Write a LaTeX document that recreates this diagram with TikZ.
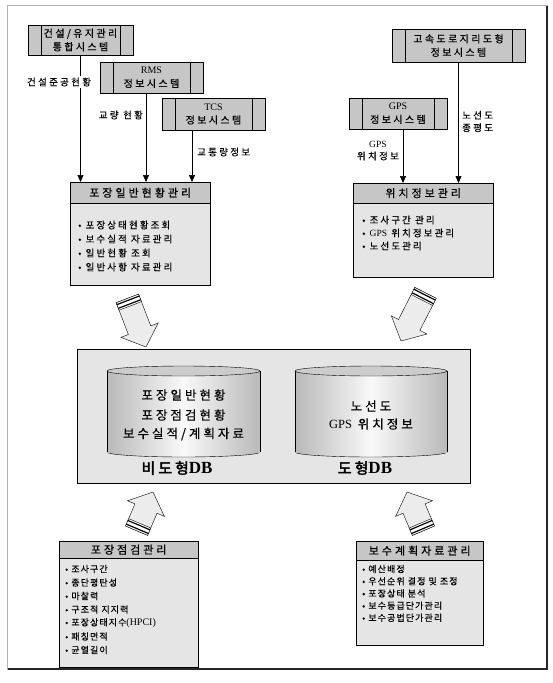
\documentclass[tikz,border=0pt]{standalone}
\usepackage{fontspec}
\setmainfont{Noto Sans CJK KR}[LetterSpace=24,FakeBold=0.5]
\newfontfamily\krtight{Noto Sans CJK KR}[LetterSpace=12,FakeBold=0.5]
\newfontfamily\krbold{Noto Sans CJK KR}[FakeBold=2.2,LetterSpace=20]
\newfontfamily\lat{Liberation Serif}
\usetikzlibrary{arrows.meta,positioning,calc}

\tikzset{
  sysbox/.style={draw, fill=gray!45, align=center, inner sep=0pt,
    font=\fontsize{10}{13.5}\selectfont,
    path picture={
      \draw ([xshift=13pt]path picture bounding box.north west) -- ([xshift=13pt]path picture bounding box.south west);
      \draw ([xshift=-13pt]path picture bounding box.north east) -- ([xshift=-13pt]path picture bounding box.south east);}},
  panel/.style={draw, fill=gray!20, inner sep=0pt},
  header/.style={draw, fill=gray!45, inner sep=0pt,
    font=\fontsize{11}{12}\selectfont\addfontfeature{LetterSpace=27}},
  item/.style={anchor=west, inner sep=0pt, font=\fontsize{9.5}{11}\selectfont\addfontfeature{LetterSpace=22}},
  smallitem/.style={anchor=west, inner sep=0pt, font=\krtight\fontsize{9}{10}\selectfont},
  flowlabel/.style={inner sep=0pt, align=center, font=\fontsize{9.5}{12.5}\selectfont},
  feed/.style={-{Triangle[length=7pt,width=6pt]}, semithick},
  dbtext/.style={inner sep=0pt, font=\fontsize{12.5}{15}\selectfont},
  dblabel/.style={inner sep=0pt, font=\fontsize{15}{18}\selectfont}
}

\begin{document}
\begin{tikzpicture}[x=1pt,y=-1pt]

\useasboundingbox (0,0) rectangle (553,683);

\draw[gray!60, line width=0.6pt] (7,5) rectangle (547,669);
\draw[gray!30!black, line width=1.6pt] (547,6) -- (547,669) -- (8,669);

% source systems
\node[sysbox, minimum width=105pt, minimum height=30pt] (cms) at (80.5,40) {건설/유지관리\\통합시스템};
\node[sysbox, minimum width=103pt, minimum height=31pt] (rms) at (151.5,77.5) {{\lat RMS}\\정보시스템};
\node[sysbox, minimum width=103pt, minimum height=32pt] (tcs) at (213.5,114) {{\lat TCS}\\정보시스템};
\node[sysbox, minimum width=133pt, minimum height=33pt] (hgis) at (458.5,45.5) {고속도로지리도형\\정보시스템};
\node[sysbox, minimum width=98pt, minimum height=31pt] (gps) at (398,113.5) {{\lat GPS}\\정보시스템};

% management boxes
\node[panel, minimum width=140pt, minimum height=103pt, anchor=north west] (pav) at (70,182) {};
\node[header, minimum width=140pt, minimum height=21pt, anchor=north] (pavhd) at (pav.north) {포장일반현황관리};
\foreach \t [count=\i] in {포장상태현황조회, 보수실적 자료관리, 일반현황 조회, 일반사항 자료관리}
\node[item] (pav\i) at ($(pav.north west)+(8,29+14*\i)$) {• \t};

\node[panel, minimum width=140pt, minimum height=94pt, anchor=north west] (loc) at (353,183) {};
\node[header, minimum width=140pt, minimum height=20pt, anchor=north] (lochd) at (loc.north) {위치정보관리};
\foreach \t [count=\i] in {조사구간 관리, {\lat GPS} 위치정보관리, 노선도관리}
\node[item] (loc\i) at ($(loc.north west)+(9,24+13*\i)$) {• \t};

\draw[feed] (cms.south) -- (cms.south |- pav.north);
\draw[feed] ([xshift=-5.5pt]rms.south) -- ([xshift=-5.5pt]rms.south |- pav.north);
\draw[feed] ([xshift=-21.5pt]tcs.south) -- ([xshift=-21.5pt]tcs.south |- pav.north);
\draw[feed] ([xshift=5pt]gps.south) -- ([xshift=5pt]gps.south |- loc.north);
\draw[feed] (hgis.south) -- (hgis.south |- loc.north);

\node[flowlabel, fill=white, inner ysep=2pt] (lcms) at (59,82) {건설준공현황};
\node[flowlabel, anchor=east] (lrms) at (143,115) {교량 현황};
\node[flowlabel, anchor=west] (ltcs) at (197,152) {교통량정보};
\node[flowlabel, anchor=east] (lgps) at (399,150.5) {{\lat GPS}\\위치정보};
\node[flowlabel, anchor=west] (lhgis) at (462,121.5) {노선도\\종평도};

% database
\node[panel, minimum width=393pt, minimum height=134pt, anchor=north west] (db) at (77,349) {};
\foreach \xa/\xb in {107/260,295/447} {
\pgfmathsetmacro\cx{(\xa+\xb)/2}
\pgfmathsetmacro\rx{(\xb-\xa)/2}
\shade[left color=gray!55, right color=gray!55, middle color=gray!5, draw] (\cx,452) ellipse [x radius=\rx, y radius=5];
\shade[left color=gray!55, right color=gray!55, middle color=gray!5] (\xa,371) rectangle (\xb,452);
\draw (\xa,371) -- (\xa,452) (\xb,371) -- (\xb,452);
\draw[fill=gray!40] (\cx,371) ellipse [x radius=\rx, y radius=5];
}
\node[dbtext] (nt1) at (183.5,395) {포장일반현황};
\node[dbtext] (nt2) at (183.5,415) {포장점검현황};
\node[dbtext] (nt3) at (183.5,434) {보수실적/계획자료};
\node[dbtext] (gt1) at (371,406) {노선도};
\node[dbtext] (gt2) at (371,424) {{\lat GPS} 위치정보};
\node[dblabel] (ndb) at (177,468) {{\krbold 비도형}{\lat\bfseries\fontsize{17}{18}\selectfont DB}};
\node[dblabel] (gdb) at (365,468) {{\krbold 도형}{\lat\bfseries\fontsize{17}{18}\selectfont DB}};

% inspection and planning
\node[panel, minimum width=139pt, minimum height=126pt, anchor=north west] (insp) at (59,541) {};
\node[header, minimum width=139pt, minimum height=17pt, anchor=north] (insphd) at (insp.north) {포장점검관리};
\foreach \t [count=\i] in {조사구간, 종단평탄성, 마찰력, 구조적 지지력, 포장상태지수{\lat\fontsize{10}{10}\selectfont(HPCI)}, 패칭면적, 균열길이}
\node[smallitem] (insp\i) at ($(insp.north west)+(6,14.5+13.5*\i)$) {• \t};

\node[panel, minimum width=127pt, minimum height=104pt, anchor=north west] (plan) at (356,541) {};
\node[header, minimum width=127pt, minimum height=19pt, anchor=north] (planhd) at (plan.north) {보수계획자료관리};
\foreach \t [count=\i] in {예산배정, 우선순위 결정 및 조정, 포장상태 분석, 보수등급단가관리, 보수공법단가관리}
\node[smallitem] (plan\i) at ($(plan.north west)+(6,15.8+12.2*\i)$) {• \t};

% transfer arrows
\foreach \tx/\ty/\rot/\len in {146/347/21/52, 401/341/-27/54, 153/492/157/42, 407/492/-157/42} {
\begin{scope}[shift={(\tx,\ty)}, rotate=\rot]
\draw[fill=gray!15] (0,0) -- (20,-18) -- (12,-18) -- (12,-\len) -- (-12,-\len) -- (-12,-18) -- (-20,-18) -- cycle;
\draw[fill=white] (-12,-\len) rectangle (12,-\len+8);
\draw[line width=1.2pt] (-12,-\len+2) -- (12,-\len+2);
\draw[line width=1.2pt] (-12,-\len+6) -- (12,-\len+6);
\end{scope}
}

\end{tikzpicture}
\end{document}
